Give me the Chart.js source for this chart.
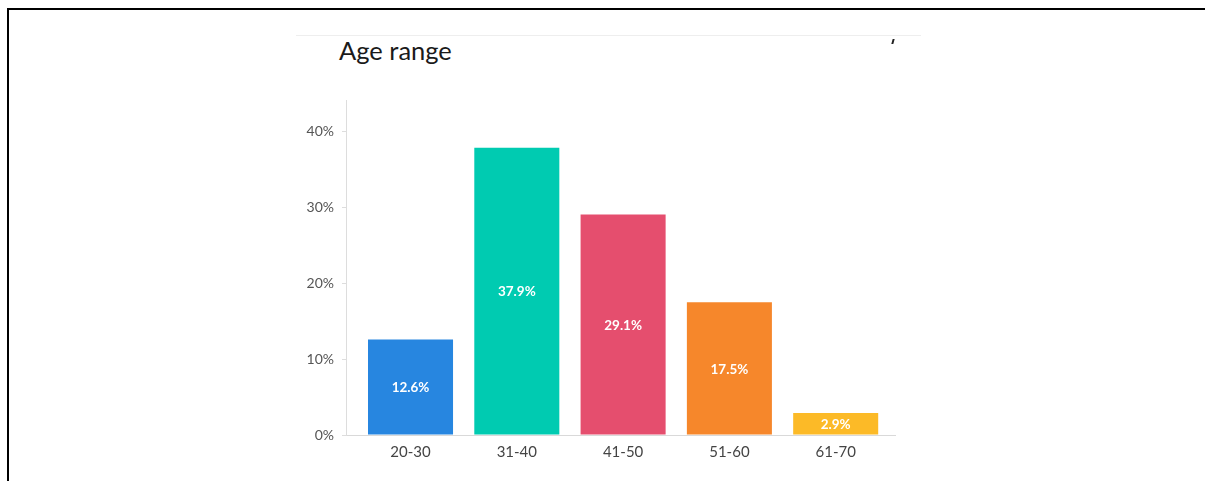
<!DOCTYPE html>
<html>
<head>
<meta charset="utf-8">
<script src="https://cdn.jsdelivr.net/npm/chart.js@4"></script>
<style>
	html, body {
		margin: 0;
		padding: 0;
		background: #fff;
	}
	#page {
		position: relative;
		width: 1205px;
		height: 481px;
		overflow: hidden;
	}
	#frame {
		position: absolute;
		left: 7px;
		top: 8px;
		right: 0;
		bottom: -4px;
		border-top: 2px solid #000;
		border-left: 2px solid #000;
	}
	#card-line {
		position: absolute;
		left: 296px;
		top: 35px;
		width: 625px;
		height: 1px;
		background: #eeeeee;
	}
	#card-mark {
		position: absolute;
		left: 892px;
		top: 39px;
		width: 2px;
		height: 5px;
		background: #222;
		transform: skewX(-15deg);
	}
	#title {
		position: absolute;
		left: 339px;
		top: 35px;
		font-family: Lato, sans-serif;
		font-size: 25.5px;
		color: #1a1a1a;
		white-space: nowrap;
	}
	#age-canvas {
		position: absolute;
		left: 0;
		top: 0;
	}
</style>
</head>
<body>
<div id="page">
	<div id="frame"></div>
	<div id="card-line"></div>
	<div id="card-mark"></div>
	<div id="title">Age range</div>
	<canvas id="age-canvas" width="1205" height="481"></canvas>
</div>
<script>
const AGE_GROUPS = ["20-30", "31-40", "41-50", "51-60", "61-70"];
const SHARES = [12.6, 37.9, 29.1, 17.5, 2.9];
const BAR_COLORS = ["#2786e0", "#00cbb1", "#e54e6e", "#f6872b", "#fcba27"];
const Y_TICKS = [0, 10, 20, 30, 40];

const $ = (id) => document.getElementById(id);

// white percentage text in the middle of every bar
const barValueLabels = {
	id: "barValueLabels",
	afterDatasetsDraw: (chart) => {
		var ctx = chart.ctx;
		var meta = chart.getDatasetMeta(0);
		ctx.save();
		ctx.font = "bold 13.5px Lato, sans-serif";
		ctx.fillStyle = "#ffffff";
		ctx.textAlign = "center";
		ctx.textBaseline = "middle";
		meta.data.forEach((bar, i) => {
			var p = bar.getProps(["x", "y", "base"], true);
			ctx.fillText(SHARES[i] + "%", p.x, (p.y + p.base) / 2 + 1);
		});
		ctx.restore();
	},
};

const config = {
	type: "bar",
	data: {
		datasets: [
			{
				label: "Age range",
				data: SHARES.map((v, i) => ({ x: i, y: v })),
				backgroundColor: BAR_COLORS,
				borderWidth: 0,
				barPercentage: 0.8,
				categoryPercentage: 1,
			},
		],
	},
	plugins: [barValueLabels],
	options: {
		responsive: false,
		animation: false,
		layout: {
			padding: { left: 300, right: 310, top: 100, bottom: 16 },
		},
		plugins: {
			legend: { display: false },
			tooltip: { enabled: false },
			title: { display: false },
		},
		scales: {
			x: {
				type: "linear",
				min: -0.607,
				max: 4.558,
				offset: false,
				afterFit: (scale) => {
					scale.height = 30;
				},
				afterBuildTicks: (scale) => {
					scale.ticks = AGE_GROUPS.map((c, i) => ({ value: i }));
				},
				grid: { display: false, drawTicks: false },
				border: { display: true, color: "#d9d9d9", width: 1 },
				ticks: {
					autoSkip: false,
					maxRotation: 0,
					padding: 8,
					color: "#444",
					font: { family: "Lato", size: 15 },
					callback: (value) => AGE_GROUPS[value],
				},
			},
			y: {
				min: 0,
				max: 44.2,
				afterFit: (scale) => {
					scale.width = 46;
				},
				afterBuildTicks: (scale) => {
					scale.ticks = Y_TICKS.map((v) => ({ value: v }));
				},
				grid: {
					drawOnChartArea: false,
					drawTicks: true,
					tickLength: 4,
					color: "#dddddd",
				},
				border: { display: true, color: "#dddddd", width: 1 },
				ticks: {
					padding: 8,
					color: "#555",
					font: { family: "Lato", size: 14 },
					callback: (value) => value + "%",
				},
			},
		},
	},
};

new Chart($("age-canvas"), config);
</script>
</body>
</html>
